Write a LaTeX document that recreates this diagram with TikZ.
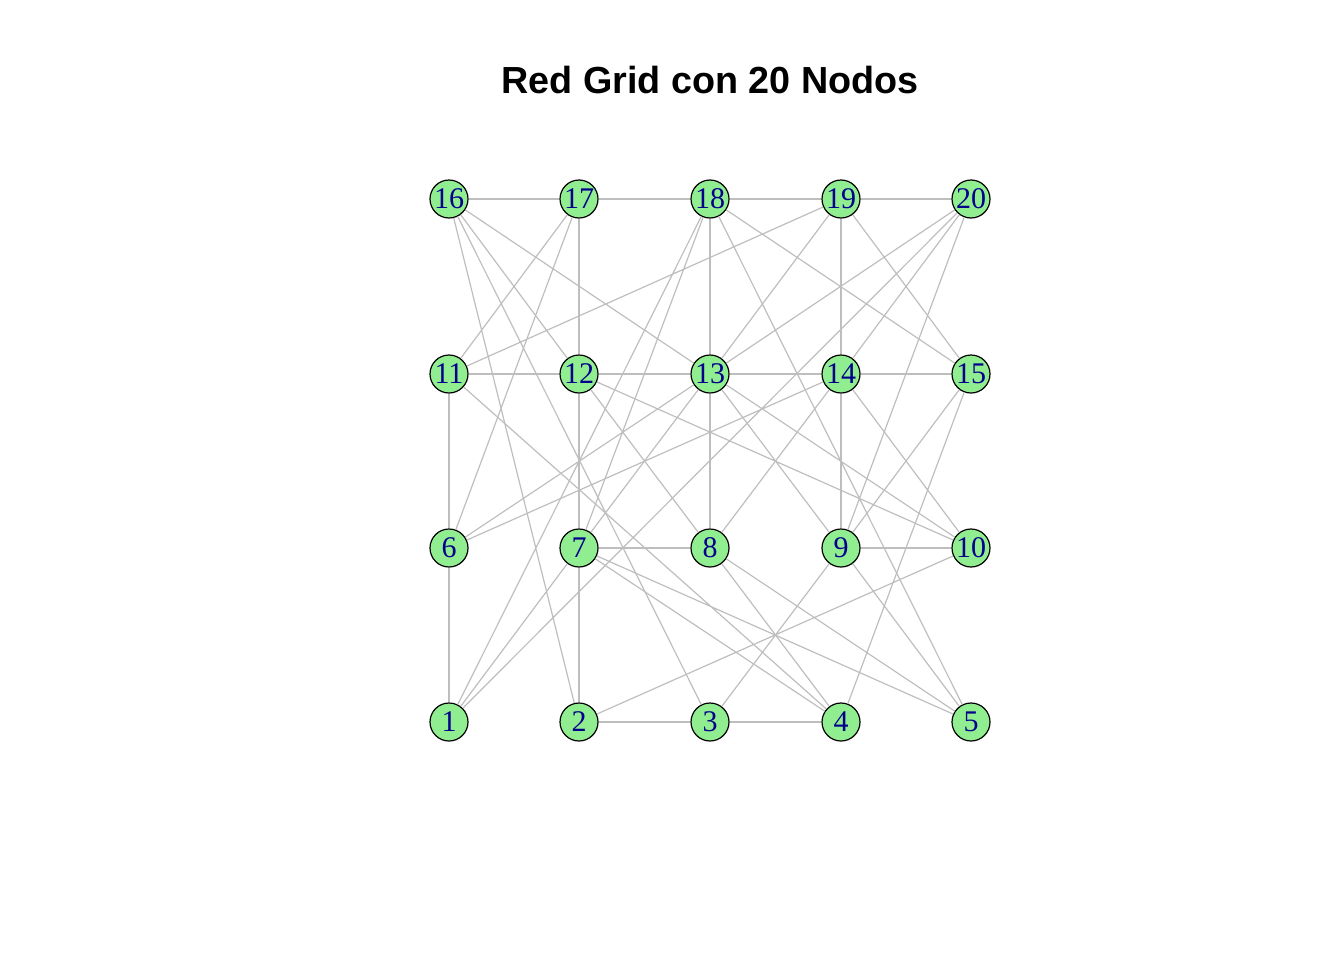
\documentclass[tikz,border=0pt]{standalone}
\usepackage{fontspec}
\setmainfont{Liberation Serif}
\newfontfamily\titlefont{Liberation Sans}
\usepackage{tikz}
\definecolor{nodegreen}{HTML}{90EE90}
\definecolor{labelblue}{HTML}{00008B}
\definecolor{edgegray}{HTML}{BEBEBE}
\tikzset{
  vertex/.style={circle, draw=black, fill=nodegreen, line width=0.9pt,
    minimum size=28.5pt, inner sep=0pt, text=labelblue,
    font=\fontsize{22.5}{24}\selectfont},
  edge/.style={draw=edgegray, line width=0.9pt}
}

\begin{document}
\begin{tikzpicture}[x=0.75pt, y=-0.75pt]
  \useasboundingbox (0,0) rectangle (1344,960);
  % Title
  \node[font=\titlefont\bfseries\fontsize{28.3}{32}\selectfont] (title) at (710,80) {Red Grid con 20 Nodos};
  % Vertices
  \node[vertex] (v1)  at (449,722) {1};
  \node[vertex] (v2)  at (579,722) {2};
  \node[vertex] (v3)  at (710,722) {3};
  \node[vertex] (v4)  at (841,722) {4};
  \node[vertex] (v5)  at (971,722) {5};
  \node[vertex] (v6)  at (449,548) {6};
  \node[vertex] (v7)  at (579,548) {7};
  \node[vertex] (v8)  at (710,548) {8};
  \node[vertex] (v9)  at (841,548) {9};
  \node[vertex] (v10) at (971,548) {10};
  \node[vertex] (v11) at (449,374) {11};
  \node[vertex] (v12) at (579,374) {12};
  \node[vertex] (v13) at (710,374) {13};
  \node[vertex] (v14) at (841,374) {14};
  \node[vertex] (v15) at (971,374) {15};
  \node[vertex] (v16) at (449,199) {16};
  \node[vertex] (v17) at (579,199) {17};
  \node[vertex] (v18) at (710,199) {18};
  \node[vertex] (v19) at (841,199) {19};
  \node[vertex] (v20) at (971,199) {20};
  % Rows
  \draw[edge] (v16) -- (v17) (v17) -- (v18) (v18) -- (v19) (v19) -- (v20)
    (v11) -- (v12) (v12) -- (v13) (v13) -- (v14) (v14) -- (v15)
    (v7) -- (v8) (v9) -- (v10) (v2) -- (v3) (v3) -- (v4);
  % Columns
  \draw[edge] (v17) -- (v12) (v12) -- (v7) (v7) -- (v2)
    (v18) -- (v13) (v13) -- (v8) (v19) -- (v14) (v14) -- (v9)
    (v11) -- (v6) (v6) -- (v1);
  % Diagonals
  \draw[edge] (v16) -- (v12) (v12) -- (v8) (v8) -- (v4)
    (v16) -- (v13) (v13) -- (v10) (v16) -- (v2) (v16) -- (v3)
    (v17) -- (v11) (v17) -- (v6)
    (v18) -- (v7) (v18) -- (v1) (v18) -- (v15) (v18) -- (v5)
    (v19) -- (v11) (v19) -- (v13) (v13) -- (v7) (v7) -- (v1) (v19) -- (v15)
    (v20) -- (v13) (v13) -- (v6) (v20) -- (v1) (v20) -- (v14) (v14) -- (v8)
    (v20) -- (v9);
  \draw[edge] (v6) -- (v14) (v12) -- (v10) (v13) -- (v9) (v14) -- (v10)
    (v15) -- (v9) (v15) -- (v4) (v11) -- (v4) (v7) -- (v4) (v7) -- (v5)
    (v8) -- (v5) (v9) -- (v3) (v9) -- (v5) (v2) -- (v10);
\end{tikzpicture}
\end{document}
